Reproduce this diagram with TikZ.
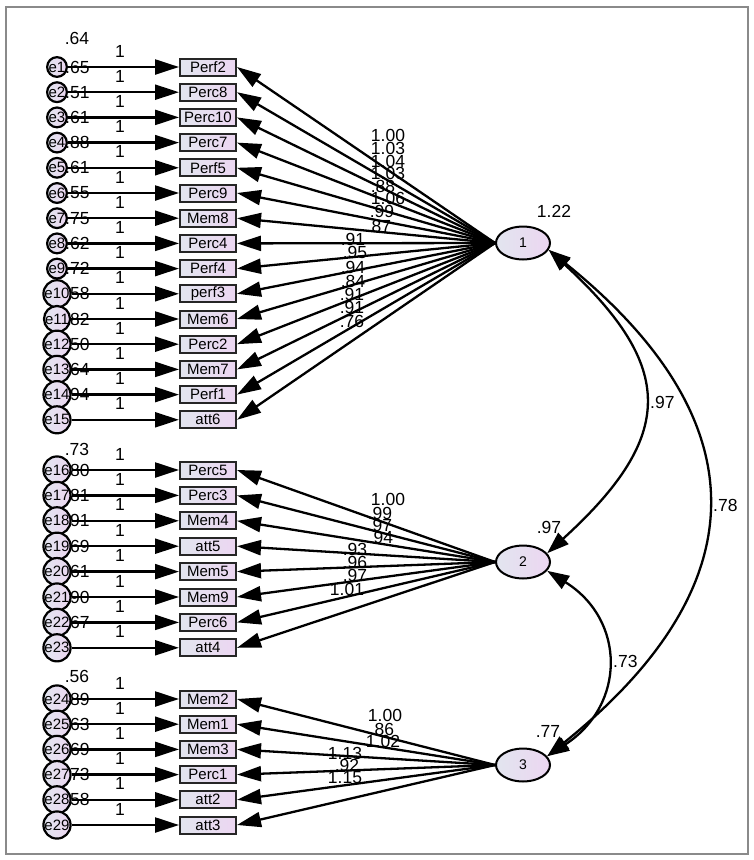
\documentclass[tikz,border=0pt]{standalone}
\usepackage{fontspec}
\setmainfont{Liberation Sans}
\usetikzlibrary{arrows.meta,shapes.geometric}
\definecolor{fillL}{HTML}{E2E5EF}
\definecolor{fillR}{HTML}{ECD6F1}
\definecolor{frameC}{HTML}{8A8A8A}
\tikzset{
  obs/.style={draw=black!85, line width=2pt, left color=fillL, right color=fillR,
    minimum width=56pt, minimum height=17pt, inner sep=0pt, font=\fontsize{15}{15}\selectfont},
  err/.style={circle, draw=black, line width=2.2pt, left color=fillL, right color=fillR,
    minimum size=16pt, inner sep=0pt, font=\fontsize{15}{15}\selectfont},
  lat/.style={ellipse, draw=black, line width=2pt, left color=fillL, right color=fillR,
    minimum width=54pt, minimum height=33pt, inner sep=0pt, font=\fontsize{14}{14}\selectfont},
  lab/.style={font=\fontsize{17.5}{17.5}\selectfont, inner sep=0pt},
  arr/.style={line width=2.3pt, -{Triangle[length=24pt,width=15pt]}},
  cov/.style={line width=2.3pt, {Triangle[length=22pt,width=15pt]}-{Triangle[length=22pt,width=15pt]}}
}
\begin{document}
\begin{tikzpicture}[x=1pt,y=-1pt]
\useasboundingbox (0,0) rectangle (754,860);
\fill[white] (0,0) rectangle (754,860);
\draw[frameC, line width=2pt] (6,7) rectangle (748,854);

\node[lat] (f1) at (523,243) {1};
\node[lat] (f2) at (523,562) {2};
\node[lat] (f3) at (523,765) {3};

% group 1
\foreach \nm/\v [count=\k from 1] in {Perf2/.65, Perc8/.51, Perc10/.61, Perc7/.88, Perf5/.61, Perc9/.55, Mem8/.75, Perc4/.62, Perf4/.72, perf3/.58, Mem6/.82, Perc2/.50, Mem7/.64, Perf1/.94, att6/{}} {
  \pgfmathsetmacro{\yy}{67+25.2*(\k-1)}
  \node[lab, anchor=west] at (65,\yy) {\v};
  \node[lab] at (120,\yy-16) {1};
  \node[obs] (o\k) at (208,\yy) {\nm};
  \node[err] (e\k) at (57,\yy) {e\k};
  \draw[arr] (e\k) -- (o\k);
  \draw[arr] (f1.west) -- (o\k.east);
}
% group 2
\foreach \nm/\v [count=\k from 16] in {Perc5/.80, Perc3/.81, Mem4/.91, att5/.69, Mem5/.61, Mem9/.90, Perc6/.67, att4/{}} {
  \pgfmathsetmacro{\yy}{470+25.4*(\k-16)}
  \node[lab, anchor=west] at (65,\yy) {\v};
  \node[lab] at (120,\yy-16) {1};
  \node[obs] (o\k) at (208,\yy) {\nm};
  \node[err] (e\k) at (57,\yy) {e\k};
  \draw[arr] (e\k) -- (o\k);
  \draw[arr] (f2.west) -- (o\k.east);
}
% group 3
\foreach \nm/\v [count=\k from 24] in {Mem2/.89, Mem1/.63, Mem3/.69, Perc1/.73, att2/.58, att3/{}} {
  \pgfmathsetmacro{\yy}{699+25.2*(\k-24)}
  \node[lab, anchor=west] at (65,\yy) {\v};
  \node[lab] at (120,\yy-16) {1};
  \node[obs] (o\k) at (208,\yy) {\nm};
  \node[err] (e\k) at (57,\yy) {e\k};
  \draw[arr] (e\k) -- (o\k);
  \draw[arr] (f3.west) -- (o\k.east);
}

% top variance labels of the error groups
\node[lab] at (77,38) {.64};
\node[lab] at (77,449) {.73};
\node[lab] at (77,676) {.56};

% factor variances
\node[lab] at (554,211) {1.22};
\node[lab] at (549,527) {.97};
\node[lab] at (548,731) {.77};

% loadings factor 1
\foreach \t/\x/\y in {1.00/388/135, 1.03/388/148, 1.04/388/161, 1.03/388/173, .88/383/186, 1.06/388/198, .99/382/211, .87/379/226,
  .91/353/239, .95/355/252, .94/353/267, .84/353/281, .91/352/294, .91/352/307, .76/352/321}
  \node[lab] at (\x,\y) {\t};
% loadings factor 2
\foreach \t/\x/\y in {1.00/388/499, .99/380/513, .97/380/525, .94/381/537, .93/355/549, .96/355/562, .97/355/575, 1.01/347/589}
  \node[lab] at (\x,\y) {\t};
% loadings factor 3
\foreach \t/\x/\y in {1.00/385/715, .86/382/729, 1.02/383/741, 1.13/345/753, .92/347/765, 1.15/345/778}
  \node[lab] at (\x,\y) {\t};

% covariances
\draw[cov] (f1.-15) .. controls (676,367) and (676,436) .. (f2.20);
\draw[cov] (f2.-20) .. controls (626,620) and (626,705) .. (f3.20);
\draw[cov] (f1.-15) .. controls (760,420) and (760,585) .. (f3.20);
\node[lab, anchor=west] at (650,402) {.97};
\node[lab, anchor=west] at (613,661) {.73};
\node[lab, anchor=west] at (713,505) {.78};
\end{tikzpicture}
\end{document}
